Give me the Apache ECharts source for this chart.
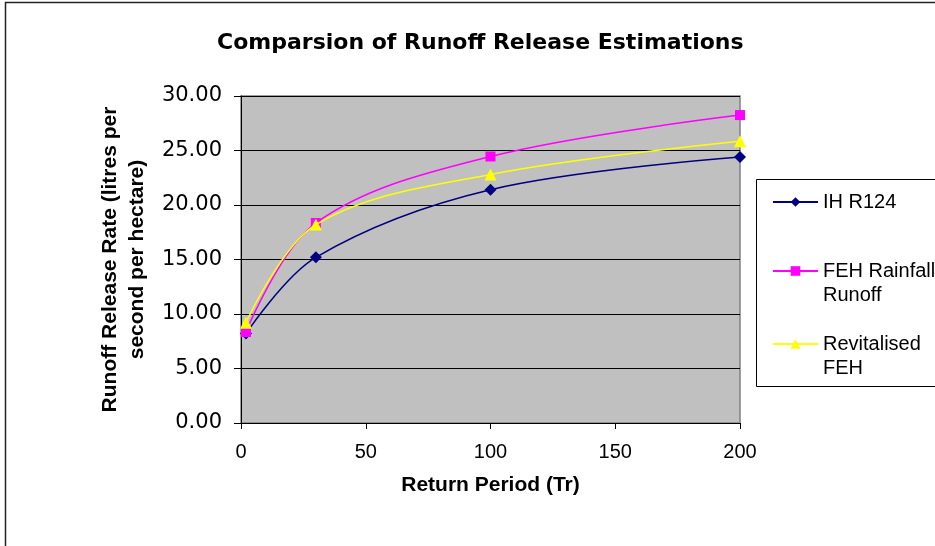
<!DOCTYPE html>
<html><head><meta charset="utf-8">
<script src="https://cdn.jsdelivr.net/npm/echarts@6/dist/echarts.min.js"></script>
<style>html,body{margin:0;padding:0;background:#fff}#c{width:935px;height:546px}</style>
</head><body><div id="c"></div>
<script>
const returnPeriods = [2, 30, 100, 200];
const ihR124 = [8.2, 15.2, 21.4, 24.4];
const fehRainfallRunoff = [8.35, 18.35, 24.45, 28.25];
const revitalisedFEH = [9.2, 18.2, 22.8, 25.85];
const seriesNames = ['IH R124', 'FEH Rainfall Runoff', 'Revitalised FEH'];
const legendLabels = ['IH R124', '\nFEH Rainfall\nRunoff', '\nRevitalised\nFEH'];
const title = 'Comparsion of Runoff Release Estimations';
const xTitle = 'Return Period (Tr)';
const yTitle = 'Runoff Release Rate (litres per\nsecond per hectare)';

const pair = (vals) => returnPeriods.map((x, i) => [x, vals[i]]);
const chart = echarts.init(document.getElementById('c'), null, {renderer: 'canvas'});
const legendFont = {fontFamily: 'Liberation Sans', fontSize: 20, color: '#000', lineHeight: 24};
function mkLegend(i, top) {
  return {
    data: [seriesNames[i]],
    left: 772, top: top, padding: 0, itemWidth: 45, itemHeight: 12,
    formatter: () => legendLabels[i],
    textStyle: legendFont, selectedMode: false
  };
}
const lineSeries = (i, vals, color, symbol, size) => ({
  name: seriesNames[i], type: 'line', data: pair(vals), smooth: 0.35,
  symbol: symbol, symbolSize: size,
  lineStyle: {color: color, width: 1.5},
  itemStyle: {color: color, borderColor: color, borderWidth: 0},
  emphasis: {disabled: true}, z: 3 + i
});
chart.setOption({
  animation: false,
  backgroundColor: '#fff',
  title: {
    text: title, left: 212, top: 27,
    textStyle: {fontFamily: 'DejaVu Sans', fontWeight: 'bold', fontSize: 22, color: '#000'}
  },
  graphic: [
    {type: 'rect', shape: {x: 5.5, y: 2.5, width: 940, height: 560}, style: {fill: 'none', stroke: '#222', lineWidth: 1.5}, silent: true},
    {type: 'rect', shape: {x: 756.5, y: 179.5, width: 200, height: 207}, style: {fill: '#fff', stroke: '#000', lineWidth: 1}, silent: true, z: -1}
  ],
  legend: [mkLegend(0, 190), mkLegend(1, 235), mkLegend(2, 308)],
  grid: {left: 241, top: 96, width: 499, height: 327, show: true, backgroundColor: '#C0C0C0', borderColor: '#808080', borderWidth: 1.5},
  xAxis: {
    type: 'value', min: 0, max: 200, interval: 50,
    name: xTitle, nameLocation: 'middle', nameGap: 52,
    nameTextStyle: {fontFamily: 'Liberation Sans', fontWeight: 'bold', fontSize: 21, color: '#000'},
    axisLine: {onZero: false, lineStyle: {color: '#000', width: 1}},
    axisTick: {show: true, length: 6, lineStyle: {color: '#000'}},
    axisLabel: {margin: 19, fontFamily: 'Liberation Sans', fontSize: 20, color: '#000'},
    splitLine: {show: false}
  },
  yAxis: {
    type: 'value', min: 0, max: 30, interval: 5,
    name: yTitle, nameLocation: 'middle', nameRotate: 90, nameGap: 88,
    nameTextStyle: {fontFamily: 'Liberation Sans', fontWeight: 'bold', fontSize: 21, color: '#000', lineHeight: 27},
    axisLine: {show: true, lineStyle: {color: '#000', width: 1}},
    axisTick: {show: true, length: 7, lineStyle: {color: '#000'}},
    axisLabel: {margin: 19, fontFamily: 'DejaVu Sans', fontSize: 21, color: '#000', formatter: v => v.toFixed(2)},
    splitLine: {show: true, lineStyle: {color: '#000', width: 1}}
  },
  series: [
    lineSeries(0, ihR124, '#000080', 'diamond', 12),
    lineSeries(1, fehRainfallRunoff, '#FF00FF', 'rect', 10),
    lineSeries(2, revitalisedFEH, '#FFFF00', 'triangle', 12)
  ]
});
</script></body></html>
